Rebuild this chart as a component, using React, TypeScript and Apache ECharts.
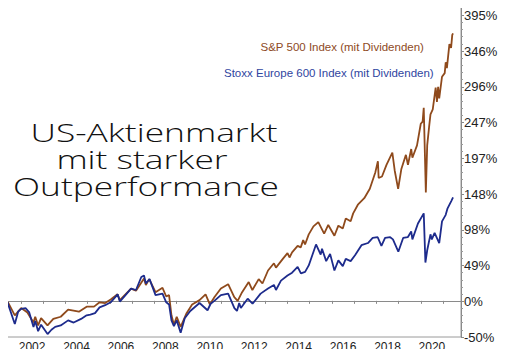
import React, { useEffect, useRef } from "react";
import * as echarts from "echarts";

// ---- Data (percent change since start) ----
const spDates = [
  "2001-02-01","2001-03-20","2001-06-01","2001-09-21","2002-01-04","2002-04-15","2002-07-23","2002-08-22",
  "2002-10-09","2002-11-27","2003-03-11","2003-06-15","2003-10-15","2004-02-15","2004-08-10","2004-12-15",
  "2005-04-15","2005-07-15","2005-10-15","2006-01-15","2006-05-05","2006-06-13","2006-12-15","2007-03-05",
  "2007-07-15","2007-08-15","2007-10-09","2008-01-22","2008-05-15","2008-07-15","2008-09-01","2008-10-10",
  "2008-11-20","2009-01-05","2009-03-09","2009-06-15","2009-09-15","2010-01-15","2010-04-23","2010-07-02",
  "2010-09-15","2010-12-31","2011-04-29","2011-08-08","2011-10-03","2011-12-15","2012-04-02","2012-06-01",
  "2012-09-14","2012-11-15","2013-02-15","2013-05-21","2013-06-24","2013-10-15","2013-12-31","2014-02-03",
  "2014-03-15","2014-06-15","2014-08-05","2014-09-15","2014-10-15","2014-12-15","2015-03-01","2015-05-20",
  "2015-08-25","2015-11-01","2016-02-11","2016-04-15","2016-06-27","2016-08-15","2016-11-04","2016-12-15",
  "2017-03-01","2017-06-15","2017-09-15","2017-12-15","2018-01-26","2018-02-08","2018-04-02","2018-06-15",
  "2018-09-20","2018-10-29","2018-12-24","2019-02-15","2019-04-30","2019-06-03","2019-07-26","2019-08-15",
  "2019-10-30","2019-12-31","2020-01-31","2020-02-19","2020-03-23","2020-04-15","2020-05-15","2020-06-08",
  "2020-07-15","2020-09-02","2020-09-23","2020-10-12","2020-10-30","2020-12-15","2021-01-29","2021-02-15",
  "2021-03-04","2021-04-15","2021-05-12","2021-06-01","2021-06-14",
];
const spValues = [
  0, -13, -2, -20, -10, -16, -30, -22,
  -34, -24, -34, -25, -22, -12, -15, -8,
  -8, -2, -3, 2, 9, 1, 17, 14,
  31, 22, 30, 12, 18, 6, 8, -20,
  -33, -22, -36, -17, -5, 1, 9, -5,
  5, 17, 23, 5, 0, 12, 26, 15,
  30, 24, 42, 52, 46, 58, 66, 60,
  67, 76, 74, 84, 78, 92, 103, 109,
  93, 105, 90, 104, 100, 114, 110, 121,
  133, 142, 155, 178, 193, 170, 172, 188,
  205, 180, 155, 182, 202, 188, 210, 198,
  215, 245, 248, 267, 150, 215, 240, 258,
  265, 295, 275, 296, 280, 310, 315, 330,
  322, 355, 350, 368, 370,
];

const stoxxDates = [
  "2001-02-01","2001-03-22","2001-05-22","2001-09-21","2001-11-15","2002-01-04","2002-03-15","2002-05-15",
  "2002-07-24","2002-08-22","2002-10-09","2002-11-27","2003-03-12","2003-05-15","2003-07-15","2003-10-15",
  "2004-02-15","2004-05-15","2004-09-15","2004-12-15","2005-02-15","2005-05-01","2005-07-15","2005-10-15",
  "2006-01-15","2006-05-08","2006-06-13","2006-09-15","2006-12-15","2007-03-05","2007-06-01","2007-07-15",
  "2007-08-15","2007-10-15","2008-01-22","2008-05-15","2008-07-15","2008-09-01","2008-10-10","2008-11-20",
  "2009-01-05","2009-03-09","2009-05-15","2009-08-15","2010-01-15","2010-05-25","2010-07-15","2010-09-15",
  "2010-12-31","2011-04-29","2011-08-10","2011-09-22","2011-10-28","2011-11-25","2012-03-15","2012-06-04",
  "2012-10-15","2013-02-15","2013-05-21","2013-06-24","2013-09-15","2013-12-31","2014-03-15","2014-06-15",
  "2014-08-08","2014-10-16","2014-12-15","2015-04-13","2015-06-29","2015-07-20","2015-09-28","2015-12-01",
  "2016-02-11","2016-04-15","2016-06-27","2016-08-15","2016-11-04","2017-01-15","2017-04-30","2017-08-15",
  "2017-11-01","2018-01-23","2018-03-23","2018-05-22","2018-08-15","2018-09-30","2018-12-27","2019-03-15",
  "2019-05-30","2019-07-26","2019-08-15","2019-11-15","2020-02-19","2020-03-16","2020-04-15","2020-06-08",
  "2020-06-30","2020-08-15","2020-10-30","2020-12-15","2021-02-15","2021-03-15","2021-05-15","2021-06-14",
];
const stoxxValues = [
  0, -10, -2, -32, -15, -11, -10, -16,
  -36, -28, -42, -33, -46, -40, -36, -34,
  -27, -30, -25, -20, -19, -17, -9, -6,
  -2, 9, -1, 8, 17, 15, 33, 35,
  24, 30, 8, 10, -2, -5, -27, -35,
  -27, -44, -24, -14, -3, -13, -4, 0,
  8, 10, -10, -14, -3, -10, 3, -4,
  10, 17, 22, 15, 28, 35, 39, 47,
  38, 40, 49, 78, 64, 72, 55, 65,
  42, 56, 48, 58, 55, 63, 77, 80,
  87, 88, 76, 87, 88, 85, 68, 87,
  88, 96, 85, 107, 121, 53, 70, 92,
  85, 94, 80, 110, 119, 128, 138, 143,
];

const yTickValues = [-50, -0.56, 48.89, 98.33, 147.78, 197.22, 246.67, 296.11, 345.56, 395];
const yTickLabels = ["-50%", "0%", "49%", "98%", "148%", "197%", "247%", "296%", "346%", "395%"];
const xTickYears = [2002, 2003, 2004, 2005, 2006, 2007, 2008, 2009, 2010, 2011, 2012, 2013, 2014, 2015, 2016, 2017, 2018, 2019, 2020, 2021];
const xLabelYears = [2002, 2004, 2006, 2008, 2010, 2012, 2014, 2016, 2018, 2020];

const seriesNames = ["S&P 500 Index (mit Dividenden)", "Stoxx Europe 600 Index (mit Dividenden)"];
const titleLines = ["US-Aktienmarkt", "mit starker", "Outperformance"];

function toYear(d: string): number {
  const [y, m, day] = d.split("-").map(Number);
  return y + (m - 1) / 12 + ((day || 15) - 1) / 365;
}

const BROWN = "#8f4a1c";
const BLUE = "#1d2b8c";

export default function App() {
  const ref = useRef<HTMLDivElement>(null);
  useEffect(() => {
    if (!ref.current) return;
    const chart = echarts.init(ref.current, null, { renderer: "svg" });
    const minorTicks: number[] = [];
    for (let i = 0; i < yTickValues.length - 1; i++) {
      const a = yTickValues[i], b = yTickValues[i + 1];
      for (let k = 1; k < 5; k++) minorTicks.push(a + ((b - a) * k) / 5);
    }
    const titleY = [132, 159, 186];
    const titleX = [154, 142, 146];
    const option: any = {
      animation: false,
      backgroundColor: "#ececec",
      grid: {
        left: 1, right: 45, top: 3, bottom: 20,
        show: true, borderColor: "#9a9a9a", borderWidth: 1, backgroundColor: "#ffffff",
      },
      xAxis: {
        type: "value", min: 2001.1, max: 2021.81,
        axisLine: { show: true, lineStyle: { color: "#8a8a8a" } },
        axisTick: { show: true, customValues: xTickYears, length: 3, lineStyle: { color: "#8a8a8a" } },
        axisLabel: {
          customValues: xLabelYears.map((y) => y + 0.5),
          formatter: (v: number) => String(Math.floor(v)),
          color: "#222", fontFamily: "Liberation Sans", fontSize: 12, margin: 4,
        },
        splitLine: { show: false },
      },
      yAxis: [
        {
          type: "value", position: "right", min: -50, max: 412,
          axisLine: { show: true, lineStyle: { color: "#8a8a8a" } },
          axisTick: { show: true, customValues: yTickValues, length: 3, lineStyle: { color: "#8a8a8a" } },
          axisLabel: {
            customValues: yTickValues,
            formatter: (v: number) => {
              let best = 0;
              yTickValues.forEach((t, i) => { if (Math.abs(t - v) < Math.abs(yTickValues[best] - v)) best = i; });
              return yTickLabels[best];
            },
            color: "#222", fontFamily: "Liberation Sans", fontSize: 13, margin: 3,
          },
          splitLine: { show: false },
        },
        {
          type: "value", position: "right", min: -50, max: 412,
          axisLine: { show: false },
          axisTick: { show: true, customValues: minorTicks, length: 2, lineStyle: { color: "#9a9a9a" } },
          axisLabel: { show: false },
          splitLine: { show: false },
        },
      ],
      graphic: [
        { type: "rect", z: -100, silent: true, shape: { x: 0.5, y: -1, width: 503, height: 356 }, style: { fill: "#ffffff", stroke: "#a8a8a8", lineWidth: 1 } },
        { type: "text", x: 260.5, y: 46.5, style: { text: seriesNames[0], fill: "#8e4a1e", font: "11.5px 'Liberation Sans'", align: "left", verticalAlign: "middle" } },
        { type: "text", x: 224, y: 73, style: { text: seriesNames[1], fill: "#2f45a0", font: "11.5px 'Liberation Sans'", align: "left", verticalAlign: "middle" } },
        ...titleLines.map((t, i) => ({
          type: "text", x: titleX[i], y: titleY[i], scaleX: 1.36,
          style: { text: t, fill: "#111", font: "300 26px 'Open Sans'", align: "center", verticalAlign: "middle" },
        })),
      ],
      series: [
        {
          name: seriesNames[0], type: "line", showSymbol: false, z: 3,
          lineStyle: { color: BROWN, width: 1.8 },
          data: spDates.map((d, i) => [toYear(d), spValues[i]]),
        },
        {
          name: seriesNames[1], type: "line", showSymbol: false, z: 4,
          lineStyle: { color: BLUE, width: 1.8 },
          data: stoxxDates.map((d, i) => [toYear(d), stoxxValues[i]]),
        },
      ],
    };
    chart.setOption(option);
    return () => chart.dispose();
  }, []);
  return <div ref={ref} style={{ width: 506, height: 357, margin: -8 }} />;
}
